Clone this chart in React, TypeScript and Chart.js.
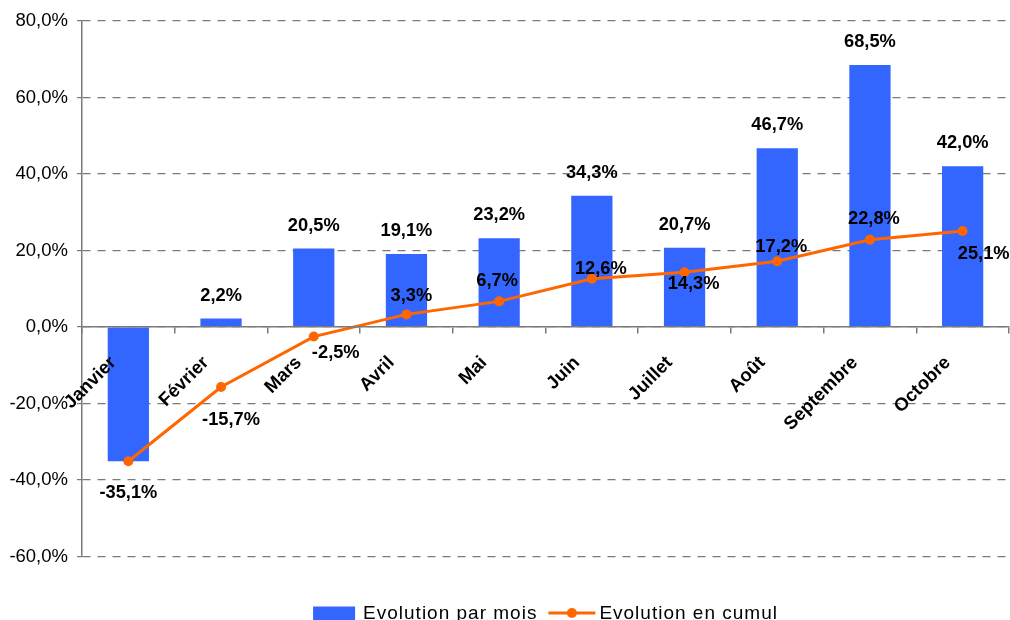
import React, { useEffect, useRef } from 'react';
import { Chart, registerables } from 'chart.js';

Chart.register(...registerables);

const FONT = '"Liberation Sans", Arial, Helvetica, sans-serif';

const months = ['Janvier', 'Février', 'Mars', 'Avril', 'Mai', 'Juin', 'Juillet', 'Août', 'Septembre', 'Octobre'];
const monthlyEvolution = [-35.1, 2.2, 20.5, 19.1, 23.2, 34.3, 20.7, 46.7, 68.5, 42.0];
const cumulativeEvolution = [-35.1, -15.7, -2.5, 3.3, 6.7, 12.6, 14.3, 17.2, 22.8, 25.1];
const yMin = -60;
const yMax = 80;
const yStep = 20;
const seriesNames = ['Evolution par mois', 'Evolution en cumul'];

// label placement (dx, dy in px) for the cumulative series labels
const cumulLabelOffsets: [number, number][] = [
  [0, 32], [10, 33], [22, 16], [5, -18], [-2, -20], [9, -10], [9, 12], [4, -14], [4, -21], [21, 23],
];

const BLUE = '#3366FF';
const ORANGE = '#FF6600';
const GRAY = '#7a7a7a';

const fmt = (v: number) => v.toFixed(1).replace('.', ',') + '%';

const valueLabels = {
  id: 'valueLabels',
  afterDatasetsDraw(chart: any) {
    const ctx = chart.ctx;
    ctx.save();
    ctx.font = `bold 18.3px ${FONT}`;
    ctx.fillStyle = '#000';
    ctx.textAlign = 'center';
    ctx.textBaseline = 'middle';
    const drawn: { t: string; x: number; y: number }[] = [];
    const put = (t: string, x: number, y: number) => {
      if (drawn.some((d) => d.t === t && Math.abs(d.x - x) < 4 && Math.abs(d.y - y) < 4)) return;
      drawn.push({ t, x, y });
      ctx.fillText(t, x, y);
    };
    const barMeta = chart.getDatasetMeta(0);
    barMeta.data.forEach((el: any, i: number) => {
      const v = monthlyEvolution[i];
      const y = v >= 0 ? el.y - 23 : el.y + 32;
      put(fmt(v), el.x, y);
    });
    const lineMeta = chart.getDatasetMeta(1);
    lineMeta.data.forEach((el: any, i: number) => {
      const [dx, dy] = cumulLabelOffsets[i];
      put(fmt(cumulativeEvolution[i]), el.x + dx, el.y + dy);
    });
    ctx.restore();
  },
};

const customLegend = {
  id: 'customLegend',
  afterDraw(chart: any) {
    const ctx = chart.ctx;
    const ca = chart.chartArea;
    const h = chart.height;
    ctx.save();
    ctx.font = `19px ${FONT}`;
    try { (ctx as any).letterSpacing = '1px'; } catch (e) { /* ignore */ }
    const w1 = ctx.measureText(seriesNames[0]).width;
    const w2 = ctx.measureText(seriesNames[1]).width;
    const boxW = 42, lineW = 47, gap1 = 8, gapItem = 11, gap2 = 4;
    const total = boxW + gap1 + w1 + gapItem + lineW + gap2 + w2;
    let x = (ca.left + ca.right) / 2 - total / 2;
    const yMid = h - 7;
    ctx.fillStyle = BLUE;
    ctx.fillRect(x, yMid - 6.5, boxW, 14);
    x += boxW + gap1;
    ctx.fillStyle = '#000';
    ctx.textAlign = 'left';
    ctx.textBaseline = 'alphabetic';
    ctx.fillText(seriesNames[0], x, h - 1);
    x += w1 + gapItem;
    ctx.strokeStyle = ORANGE;
    ctx.lineWidth = 3;
    ctx.beginPath();
    ctx.moveTo(x, yMid);
    ctx.lineTo(x + lineW, yMid);
    ctx.stroke();
    ctx.fillStyle = ORANGE;
    ctx.beginPath();
    ctx.arc(x + lineW / 2, yMid, 5, 0, Math.PI * 2);
    ctx.fill();
    x += lineW + gap2;
    ctx.fillStyle = '#000';
    ctx.fillText(seriesNames[1], x, h - 1);
    ctx.restore();
  },
};

export default function App() {
  const ref = useRef<HTMLCanvasElement | null>(null);

  useEffect(() => {
    if (!ref.current) return;
    const chart = new Chart(ref.current, {
      type: 'bar',
      data: {
        labels: months,
        datasets: [
          {
            type: 'bar',
            label: seriesNames[0],
            data: monthlyEvolution,
            backgroundColor: BLUE,
            borderWidth: 0,
            barPercentage: 0.445,
            categoryPercentage: 1,
            order: 2,
          },
          {
            type: 'line',
            label: seriesNames[1],
            data: cumulativeEvolution,
            borderColor: ORANGE,
            backgroundColor: ORANGE,
            borderWidth: 3,
            pointRadius: 5,
            pointBackgroundColor: ORANGE,
            pointBorderWidth: 0,
            tension: 0,
            order: 1,
          },
        ],
      } as any,
      options: {
        responsive: false,
        animation: false,
        layout: { padding: { top: 13, right: 0, bottom: 63.5, left: 0 } },
        plugins: {
          legend: { display: false },
          tooltip: { enabled: false },
        },
        scales: {
          x: {
            position: { y: 0 } as any,
            offset: true,
            afterFit: (scale: any) => {
              scale.paddingTop = 0;
              scale.paddingBottom = 0;
              scale.paddingLeft = 0;
              scale.paddingRight = 0;
            },
            grid: {
              display: true,
              drawOnChartArea: false,
              drawTicks: true,
              tickLength: 6,
              offset: true,
              color: GRAY,
              lineWidth: 1.5,
              z: 1,
            },
            border: { display: true, color: GRAY, width: 1.5, z: 1 },
            ticks: {
              z: 2,
              autoSkip: false,
              minRotation: 45,
              maxRotation: 45,
              labelOffset: -15,
              padding: 19,
              color: '#000',
              font: { family: FONT, size: 18.5, weight: 'bold' },
            },
          },
          y: {
            min: yMin,
            max: yMax,
            afterFit: (scale: any) => {
              scale.width = 74;
              scale.paddingTop = 0;
              scale.paddingBottom = 0;
            },
            ticks: {
              stepSize: yStep,
              padding: 9,
              color: '#000',
              font: { family: FONT, size: 18.5 },
              callback: (v: any) => fmt(Number(v)),
            },
            grid: {
              color: GRAY,
              lineWidth: 1.2,
              tickLength: 5,
              tickBorderDash: [],
            },
            border: { display: true, color: GRAY, width: 1.5, dash: [8, 7] },
          },
        },
      } as any,
      plugins: [valueLabels, customLegend],
    });
    return () => chart.destroy();
  }, []);

  return (
    <div style={{ width: 994, height: 604 }}>
      <canvas
        ref={ref}
        width={1006}
        height={612}
        style={{ display: 'block', position: 'fixed', left: 8, top: 8 }}
      />
    </div>
  );
}
